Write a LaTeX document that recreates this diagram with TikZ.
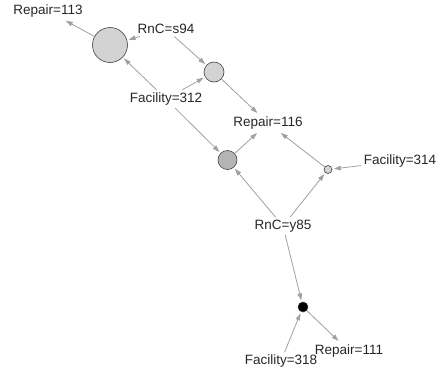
\documentclass[tikz,border=0pt]{standalone}
\usepackage{fontspec}
\setmainfont{Liberation Sans}
\usetikzlibrary{arrows.meta}
\definecolor{edgegray}{HTML}{A0A0A0}
\definecolor{lightfill}{HTML}{D3D3D3}
\definecolor{midfill}{HTML}{B4B4B4}
\tikzset{
  lbl/.style={inner sep=2.5pt, font=\fontsize{13.5}{14}\selectfont, text=black!85},
  rule/.style={circle, draw=black!75, line width=0.6pt, inner sep=0pt},
  edge/.style={draw=edgegray, line width=0.8pt, -{Triangle[length=7pt,width=4.5pt]}, shorten >=1.5pt}
}
\begin{document}
\begin{tikzpicture}[x=1pt,y=-1pt]
\useasboundingbox (0,0) rectangle (439,373);
% item labels
\node[lbl] (r113) at (48,11) {Repair=113};
\node[lbl] (s94) at (166,29) {RnC=s94};
\node[lbl] (f312) at (166,99) {Facility=312};
\node[lbl] (r116) at (268,123) {Repair=116};
\node[lbl] (f314) at (400,161) {Facility=314};
\node[lbl] (y85) at (283,226) {RnC=y85};
\node[lbl] (f318) at (281,361) {Facility=318};
\node[lbl] (r111) at (349,351) {Repair=111};
% rules
\node[rule, fill=lightfill, minimum size=35pt] (c1) at (110,45) {};
\node[rule, fill=lightfill, minimum size=20pt] (c2) at (214,72) {};
\node[rule, fill=midfill, minimum size=19pt] (c3) at (227.5,160) {};
\node[rule, fill=lightfill, minimum size=8pt] (c4) at (328,169.5) {};
\node[rule, fill=black, minimum size=10pt] (c5) at (303,307) {};
% edges
\draw[edge] (c1) -- (r113);
\draw[edge] (s94) -- (c1);
\draw[edge] (s94) -- (c2);
\draw[edge] (f312) -- (c1);
\draw[edge] (f312) -- (c2);
\draw[edge] (f312) -- (c3);
\draw[edge] (c2) -- (r116);
\draw[edge] (c3) -- (r116);
\draw[edge] (c4) -- (r116);
\draw[edge] (f314) -- (c4);
\draw[edge] (y85) -- (c3);
\draw[edge] (y85) -- (c4);
\draw[edge] (y85) -- (c5);
\draw[edge] (f318) -- (c5);
\draw[edge] (c5) -- (r111);
\end{tikzpicture}
\end{document}
